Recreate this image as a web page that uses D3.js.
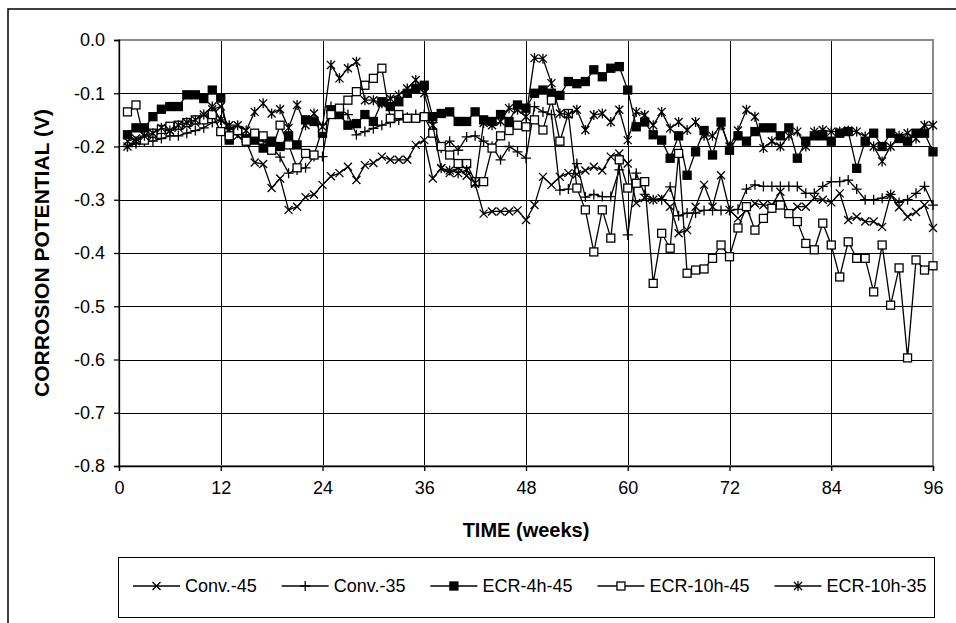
<!DOCTYPE html>
<html>
<head>
<meta charset="utf-8">
<script src="https://cdn.jsdelivr.net/npm/d3@7"></script>
<style>
  body { margin: 0; background: #fff; }
  svg { display: block; font-family: Arial, "Liberation Sans", sans-serif; }
</style>
</head>
<body>
<svg id="chart" width="956" height="623"></svg>
<script>
// weeks 1..96
const weeks = d3.range(1, 97);

const conv45 = [-0.19,-0.185,-0.18,-0.18,-0.17,-0.17,-0.165,-0.16,-0.155,-0.145,-0.13,-0.125,
  -0.17,-0.18,-0.19,-0.23,-0.233,-0.278,-0.26,-0.319,-0.313,-0.295,-0.29,-0.272,
  -0.256,-0.25,-0.238,-0.263,-0.235,-0.231,-0.219,-0.225,-0.225,-0.225,-0.197,-0.188,
  -0.26,-0.241,-0.25,-0.24,-0.255,-0.27,-0.326,-0.322,-0.322,-0.322,-0.32,-0.338,
  -0.31,-0.257,-0.272,-0.257,-0.25,-0.252,-0.245,-0.238,-0.245,-0.219,-0.213,-0.232,
  -0.306,-0.297,-0.3,-0.297,-0.313,-0.363,-0.357,-0.313,-0.272,-0.313,-0.254,-0.319,
  -0.335,-0.32,-0.307,-0.31,-0.31,-0.285,-0.326,-0.313,-0.313,-0.297,-0.3,-0.305,
  -0.288,-0.338,-0.332,-0.341,-0.341,-0.351,-0.291,-0.314,-0.332,-0.323,-0.31,-0.353];

const conv35 = [-0.2,-0.195,-0.19,-0.19,-0.185,-0.18,-0.18,-0.175,-0.17,-0.165,-0.155,-0.15,
  -0.165,-0.175,-0.18,-0.185,-0.19,-0.2,-0.22,-0.25,-0.244,-0.24,-0.219,-0.219,
  -0.125,-0.13,-0.14,-0.178,-0.172,-0.166,-0.16,-0.155,-0.15,-0.145,-0.14,-0.14,
  -0.155,-0.203,-0.19,-0.207,-0.182,-0.18,-0.19,-0.2,-0.225,-0.2,-0.21,-0.222,
  -0.125,-0.135,-0.14,-0.282,-0.28,-0.232,-0.295,-0.29,-0.294,-0.294,-0.244,-0.366,
  -0.25,-0.29,-0.3,-0.3,-0.276,-0.33,-0.325,-0.325,-0.32,-0.32,-0.32,-0.32,
  -0.318,-0.28,-0.272,-0.275,-0.275,-0.275,-0.275,-0.275,-0.288,-0.288,-0.275,-0.266,
  -0.266,-0.263,-0.28,-0.3,-0.3,-0.297,-0.29,-0.305,-0.3,-0.288,-0.275,-0.31];

const ecr4h45 = [-0.178,-0.165,-0.165,-0.144,-0.13,-0.125,-0.125,-0.103,-0.103,-0.11,-0.094,-0.109,
  -0.188,-0.17,-0.185,-0.188,-0.203,-0.19,-0.2,-0.18,-0.197,-0.15,-0.153,-0.175,
  -0.131,-0.14,-0.16,-0.157,-0.14,-0.153,-0.116,-0.125,-0.116,-0.1,-0.091,-0.085,
  -0.144,-0.138,-0.135,-0.153,-0.153,-0.135,-0.15,-0.153,-0.14,-0.153,-0.122,-0.128,
  -0.1,-0.094,-0.1,-0.104,-0.078,-0.082,-0.078,-0.056,-0.069,-0.053,-0.05,-0.094,
  -0.163,-0.154,-0.178,-0.188,-0.222,-0.18,-0.254,-0.21,-0.17,-0.216,-0.154,-0.207,
  -0.18,-0.19,-0.172,-0.165,-0.165,-0.18,-0.165,-0.222,-0.19,-0.18,-0.18,-0.19,
  -0.175,-0.172,-0.241,-0.19,-0.175,-0.2,-0.175,-0.185,-0.19,-0.175,-0.175,-0.21];

const ecr10h45 = [-0.135,-0.122,-0.188,-0.175,-0.168,-0.162,-0.16,-0.155,-0.15,-0.15,-0.14,-0.172,
  -0.18,-0.17,-0.19,-0.175,-0.18,-0.207,-0.16,-0.197,-0.24,-0.213,-0.216,-0.166,
  -0.14,-0.128,-0.113,-0.097,-0.085,-0.072,-0.053,-0.147,-0.14,-0.147,-0.147,-0.144,
  -0.175,-0.2,-0.216,-0.232,-0.232,-0.266,-0.266,-0.203,-0.18,-0.17,-0.16,-0.163,
  -0.15,-0.169,-0.113,-0.19,-0.138,-0.278,-0.319,-0.398,-0.319,-0.372,-0.225,-0.278,
  -0.269,-0.266,-0.457,-0.363,-0.391,-0.213,-0.438,-0.432,-0.43,-0.41,-0.385,-0.407,
  -0.353,-0.313,-0.357,-0.335,-0.316,-0.31,-0.326,-0.341,-0.382,-0.394,-0.344,-0.385,
  -0.445,-0.379,-0.41,-0.41,-0.473,-0.385,-0.498,-0.428,-0.597,-0.413,-0.432,-0.424];

const ecr10h35 = [-0.2,-0.19,-0.18,-0.175,-0.165,-0.17,-0.16,-0.155,-0.15,-0.14,-0.125,-0.15,
  -0.16,-0.16,-0.17,-0.135,-0.119,-0.138,-0.13,-0.165,-0.122,-0.16,-0.138,-0.163,
  -0.047,-0.072,-0.053,-0.041,-0.113,-0.113,-0.119,-0.11,-0.103,-0.091,-0.075,-0.1,
  -0.16,-0.241,-0.245,-0.25,-0.244,-0.269,-0.156,-0.16,-0.153,-0.128,-0.131,-0.144,
  -0.034,-0.035,-0.081,-0.138,-0.14,-0.131,-0.169,-0.141,-0.138,-0.154,-0.131,-0.188,
  -0.135,-0.141,-0.16,-0.135,-0.166,-0.154,-0.169,-0.154,-0.18,-0.18,-0.16,-0.2,
  -0.17,-0.131,-0.144,-0.203,-0.19,-0.2,-0.18,-0.172,-0.2,-0.172,-0.169,-0.172,
  -0.172,-0.17,-0.172,-0.181,-0.2,-0.228,-0.2,-0.18,-0.175,-0.185,-0.16,-0.16];

const seriesNames = ["Conv.-45", "Conv.-35", "ECR-4h-45", "ECR-10h-45", "ECR-10h-35"];
const seriesValues = [conv45, conv35, ecr4h45, ecr10h45, ecr10h35];
const seriesMarkers = ["x", "plus", "fsquare", "osquare", "star"];

const xTicks = [0, 12, 24, 36, 48, 60, 72, 84, 96];
const yTicks = [0, -0.1, -0.2, -0.3, -0.4, -0.5, -0.6, -0.7, -0.8];

const svg = d3.select("#chart");

// outer chart border (runs off the right and bottom edge)
svg.append("rect")
  .attr("x", 8).attr("y", 9)
  .attr("width", 960).attr("height", 630)
  .attr("fill", "none").attr("stroke", "#000").attr("stroke-width", 1.5);

const plotL = 119, plotR = 933, plotT = 40, plotB = 466;

const x = d3.scaleLinear().domain([0, 96]).range([plotL, plotR]);
const y = d3.scaleLinear().domain([-0.8, 0]).range([plotB, plotT]);

// gridlines
svg.append("g")
  .selectAll("line")
  .data(yTicks.slice(1, -1))
  .enter().append("line")
  .attr("x1", plotL).attr("x2", plotR)
  .attr("y1", d => Math.round(y(d)) + 0.5).attr("y2", d => Math.round(y(d)) + 0.5)
  .attr("stroke", "#000").attr("stroke-width", 1);

svg.append("g")
  .selectAll("line")
  .data(xTicks.slice(1, -1))
  .enter().append("line")
  .attr("y1", plotT).attr("y2", plotB)
  .attr("x1", d => Math.round(x(d)) + 0.5).attr("x2", d => Math.round(x(d)) + 0.5)
  .attr("stroke", "#000").attr("stroke-width", 1);

// plot frame, grey
svg.append("rect")
  .attr("x", plotL).attr("y", plotT)
  .attr("width", plotR - plotL).attr("height", plotB - plotT)
  .attr("fill", "none").attr("stroke", "#8c8c8c").attr("stroke-width", 2);

// axes (plain hyphen for the minus sign, like the original)
const yAxis = d3.axisLeft(y).tickValues(yTicks).tickFormat(d => d.toFixed(1)).tickSize(5).tickPadding(9);
const xAxis = d3.axisBottom(x).tickValues(xTicks).tickSize(5).tickPadding(10);

svg.append("g")
  .attr("transform", `translate(${plotL},0)`)
  .call(yAxis)
  .call(g => g.selectAll("text").attr("font-size", 18).attr("font-family", "Arial, 'Liberation Sans'").attr("fill", "#000"))
  .call(g => g.selectAll("line, path").attr("stroke", "#000").attr("stroke-width", 1.3));

svg.append("g")
  .attr("transform", `translate(0,${plotB})`)
  .call(xAxis)
  .call(g => g.selectAll("text").attr("font-size", 18).attr("font-family", "Arial, 'Liberation Sans'").attr("fill", "#000"))
  .call(g => g.selectAll("line, path").attr("stroke", "#000").attr("stroke-width", 1.3));

// axis titles
svg.append("text")
  .attr("x", (plotL + plotR) / 2).attr("y", 537)
  .attr("text-anchor", "middle")
  .attr("font-size", 20).attr("font-weight", "bold")
  .text("TIME (weeks)");

svg.append("text")
  .attr("transform", `translate(49,${(plotT + plotB) / 2}) rotate(-90)`)
  .attr("text-anchor", "middle")
  .attr("font-size", 21).attr("font-weight", "bold")
  .text("CORROSION POTENTIAL (V)");

function drawMarker(g, type, cx, cy, s) {
  if (type === "x" || type === "star") {
    g.append("path")
      .attr("d", `M${cx - s},${cy - s}L${cx + s},${cy + s}M${cx - s},${cy + s}L${cx + s},${cy - s}` +
        (type === "star" ? `M${cx},${cy - s - 1}L${cx},${cy + s + 1}` : ""))
      .attr("stroke", "#000").attr("stroke-width", 1.3).attr("fill", "none");
  } else if (type === "plus") {
    g.append("path")
      .attr("d", `M${cx - s - 1},${cy}L${cx + s + 1},${cy}M${cx},${cy - s - 1}L${cx},${cy + s + 1}`)
      .attr("stroke", "#000").attr("stroke-width", 1.3).attr("fill", "none");
  } else {
    g.append("rect")
      .attr("x", cx - s).attr("y", cy - s)
      .attr("width", 2 * s).attr("height", 2 * s)
      .attr("fill", type === "fsquare" ? "#000" : "#fff")
      .attr("stroke", "#000").attr("stroke-width", 1.3);
  }
}

const line = d3.line()
  .x((d, i) => x(weeks[i]))
  .y(d => y(d));

seriesValues.forEach((vals, k) => {
  const g = svg.append("g");
  g.append("path")
    .datum(vals)
    .attr("d", line)
    .attr("fill", "none")
    .attr("stroke", "#000")
    .attr("stroke-width", 1.3);
  vals.forEach((v, i) => drawMarker(g, seriesMarkers[k], x(weeks[i]), y(v), 4));
});

// legend
svg.append("rect")
  .attr("x", 118.5).attr("y", 557.5)
  .attr("width", 816).attr("height", 60)
  .attr("fill", "none").attr("stroke", "#000").attr("stroke-width", 1);

let cursor = 133;
const legY = 586;
seriesNames.forEach((name, k) => {
  const g = svg.append("g");
  g.append("line")
    .attr("x1", cursor).attr("x2", cursor + 47)
    .attr("y1", legY).attr("y2", legY)
    .attr("stroke", "#000").attr("stroke-width", 1.3);
  drawMarker(g, seriesMarkers[k], cursor + 23.5, legY, 4);
  const t = g.append("text")
    .attr("x", cursor + 52).attr("y", legY + 6)
    .attr("font-size", 18)
    .text(name);
  cursor += 52 + t.node().getComputedTextLength() + 25;
});
</script>
</body>
</html>
